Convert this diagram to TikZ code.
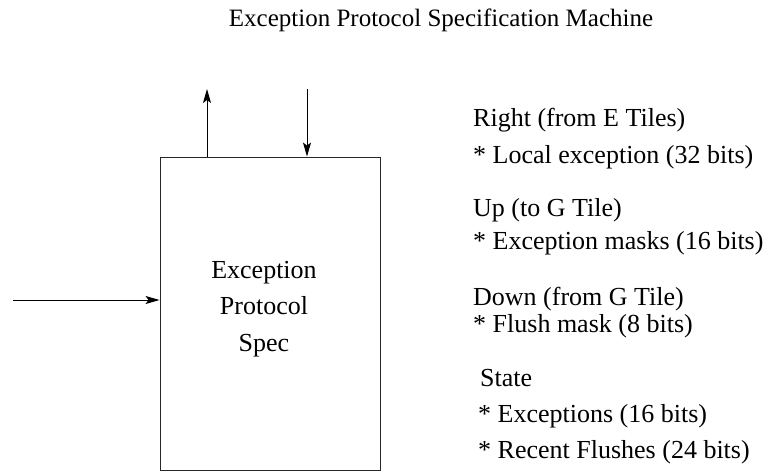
\documentclass[tikz,border=0pt]{standalone}
\usepackage{fontspec}
\setmainfont{Liberation Serif}
\usetikzlibrary{arrows.meta}

\begin{document}
\begin{tikzpicture}[x=1pt, y=-1pt,
    block/.style={draw=black!85, line width=0.9pt, minimum width=220pt, minimum height=313pt, inner sep=0pt},
    heading/.style={anchor=base, inner sep=0pt, font=\fontsize{25}{30}\selectfont},
    boxtext/.style={anchor=base, inner sep=0pt, font=\fontsize{26}{31}\selectfont},
    note/.style={anchor=base west, inner sep=0pt, font=\fontsize{26}{31}\selectfont},
    arrow/.style={-{Stealth[length=14pt,width=8pt,inset=3pt]}, line width=1pt}]

    \useasboundingbox (0,0) rectangle (774,474);

    \node[heading] (title) at (441,26) {Exception Protocol Specification Machine};

    % the machine
    \node[block] (spec) at (270,313.5) {};
    \node[boxtext] (specexc) at (264,278) {Exception};
    \node[boxtext] (specproto) at (264,314) {Protocol};
    \node[boxtext] (specname) at (264,351) {Spec};

    \coordinate (upout) at (207,89);
    \coordinate (downin) at (307,89);
    \coordinate (rightin) at (13,300);

    \draw[arrow] (spec.north -| upout) -- (upout);
    \draw[arrow] (downin) -- (spec.north -| downin);
    \draw[arrow] (rightin) -- (spec.west |- rightin);

    % interface description
    \node[note] (rhead) at (473,126) {Right (from E Tiles)};
    \node[note] (rdata) at (473,163) {* Local exception (32 bits)};
    \node[note] (uhead) at (473,216) {Up (to G Tile)};
    \node[note] (udata) at (473,249) {* Exception masks (16 bits)};
    \node[note] (dhead) at (473,305) {Down (from G Tile)};
    \node[note] (ddata) at (473,332) {* Flush mask (8 bits)};
    \node[note] (shead) at (480,386) {State};
    \node[note] (sexc) at (478,422) {* Exceptions (16 bits)};
    \node[note] (sflush) at (478,458) {* Recent Flushes (24 bits)};
\end{tikzpicture}
\end{document}
